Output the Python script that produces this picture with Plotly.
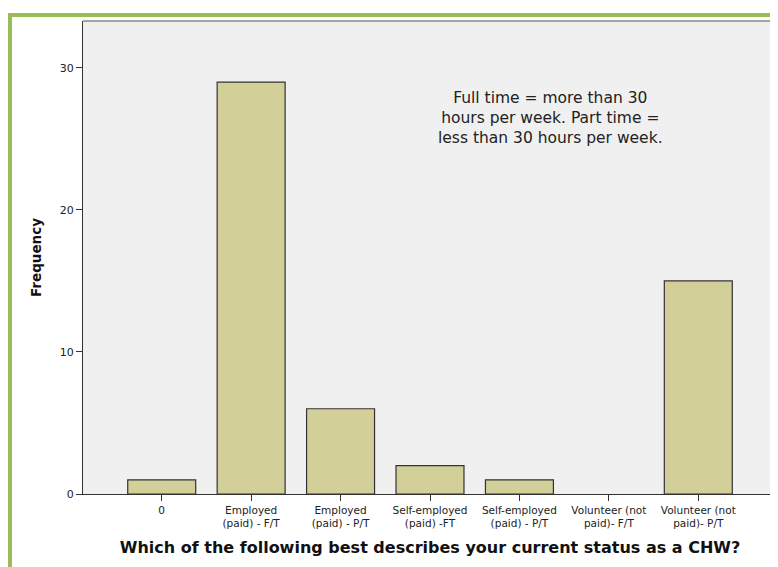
import plotly.graph_objects as go

categories = ["0", "Employed<br>(paid) - F/T", "Employed<br>(paid) - P/T", "Self-employed<br>(paid) -FT",
              "Self-employed<br>(paid) - P/T", "Volunteer (not<br>paid)- F/T", "Volunteer (not<br>paid)- P/T"]
frequency = [1, 29, 6, 2, 1, 0, 15]
y_ticks = [0, 10, 20, 30]

OFF = 8  # page body margin
W, H = 778 - OFF, 567 - OFF
L, R, T, B = 83 - OFF, 1, 21 - OFF, 73
pw, ph = W - L - R, H - T - B

def px_x(p):
    return (p - OFF - L) / pw

def px_y(p):
    return (H - B - (p - OFF)) / ph

FONT = "DejaVu Sans, Verdana, sans-serif"

fig = go.Figure()
fig.add_trace(go.Bar(
    x=list(range(len(categories))), y=frequency, width=0.76,
    marker=dict(color="#d3cf98",
                line=dict(color="#333333", width=[1.2 if v > 0 else 0 for v in frequency])),
))

fig.update_layout(
    width=W, height=H,
    margin=dict(l=L, r=R, t=T, b=B),
    paper_bgcolor="white", plot_bgcolor="#f0f0f0",
    showlegend=False,
    font=dict(family=FONT, color="#222222"),
    xaxis=dict(
        range=[-0.88, 6.88], tickmode="array", tickvals=list(range(len(categories))),
        ticktext=categories, ticks="outside", ticklen=6, tickcolor="#333333",
        showline=True, linecolor="#333333", linewidth=1.2, showgrid=False, zeroline=False,
        tickfont=dict(family=FONT, size=10.5, color="#222222"),
        title=dict(text="<b>Which of the following best describes your current status as a CHW?</b>",
                   font=dict(family=FONT, size=16, color="#111111"), standoff=13),
    ),
    yaxis=dict(
        range=[0, 33.3], tickmode="array", tickvals=y_ticks, ticks="outside", ticklen=6,
        tickcolor="#333333", showline=True, linecolor="#333333", linewidth=1.2,
        showgrid=False, zeroline=False, tickfont=dict(family=FONT, size=11, color="#222222"),
        title=dict(text="<b>Frequency</b>", font=dict(family=FONT, size=13.5, color="#111111"), standoff=14),
    ),
)

# plot frame top (gray)
fig.add_shape(type="line", xref="paper", yref="paper", x0=0, x1=1, y0=1, y1=1,
              line=dict(color="#888888", width=1.5))
# green decorative border
fig.add_shape(type="line", xref="paper", yref="paper", x0=px_x(8), x1=px_x(800), y0=px_y(15), y1=px_y(15),
              line=dict(color="#9bbb59", width=4))
fig.add_shape(type="line", xref="paper", yref="paper", x0=px_x(10), x1=px_x(10), y0=px_y(13), y1=px_y(600),
              line=dict(color="#9bbb59", width=4))

fig.add_annotation(
    xref="paper", yref="paper", x=px_x(550), y=px_y(118), xanchor="center", yanchor="middle",
    text="Full time = more than 30<br>hours per week. Part time =<br>less than 30 hours per week.",
    showarrow=False, align="center", font=dict(family=FONT, size=15.5, color="#222222"),
)

fig.write_html("out.html")
